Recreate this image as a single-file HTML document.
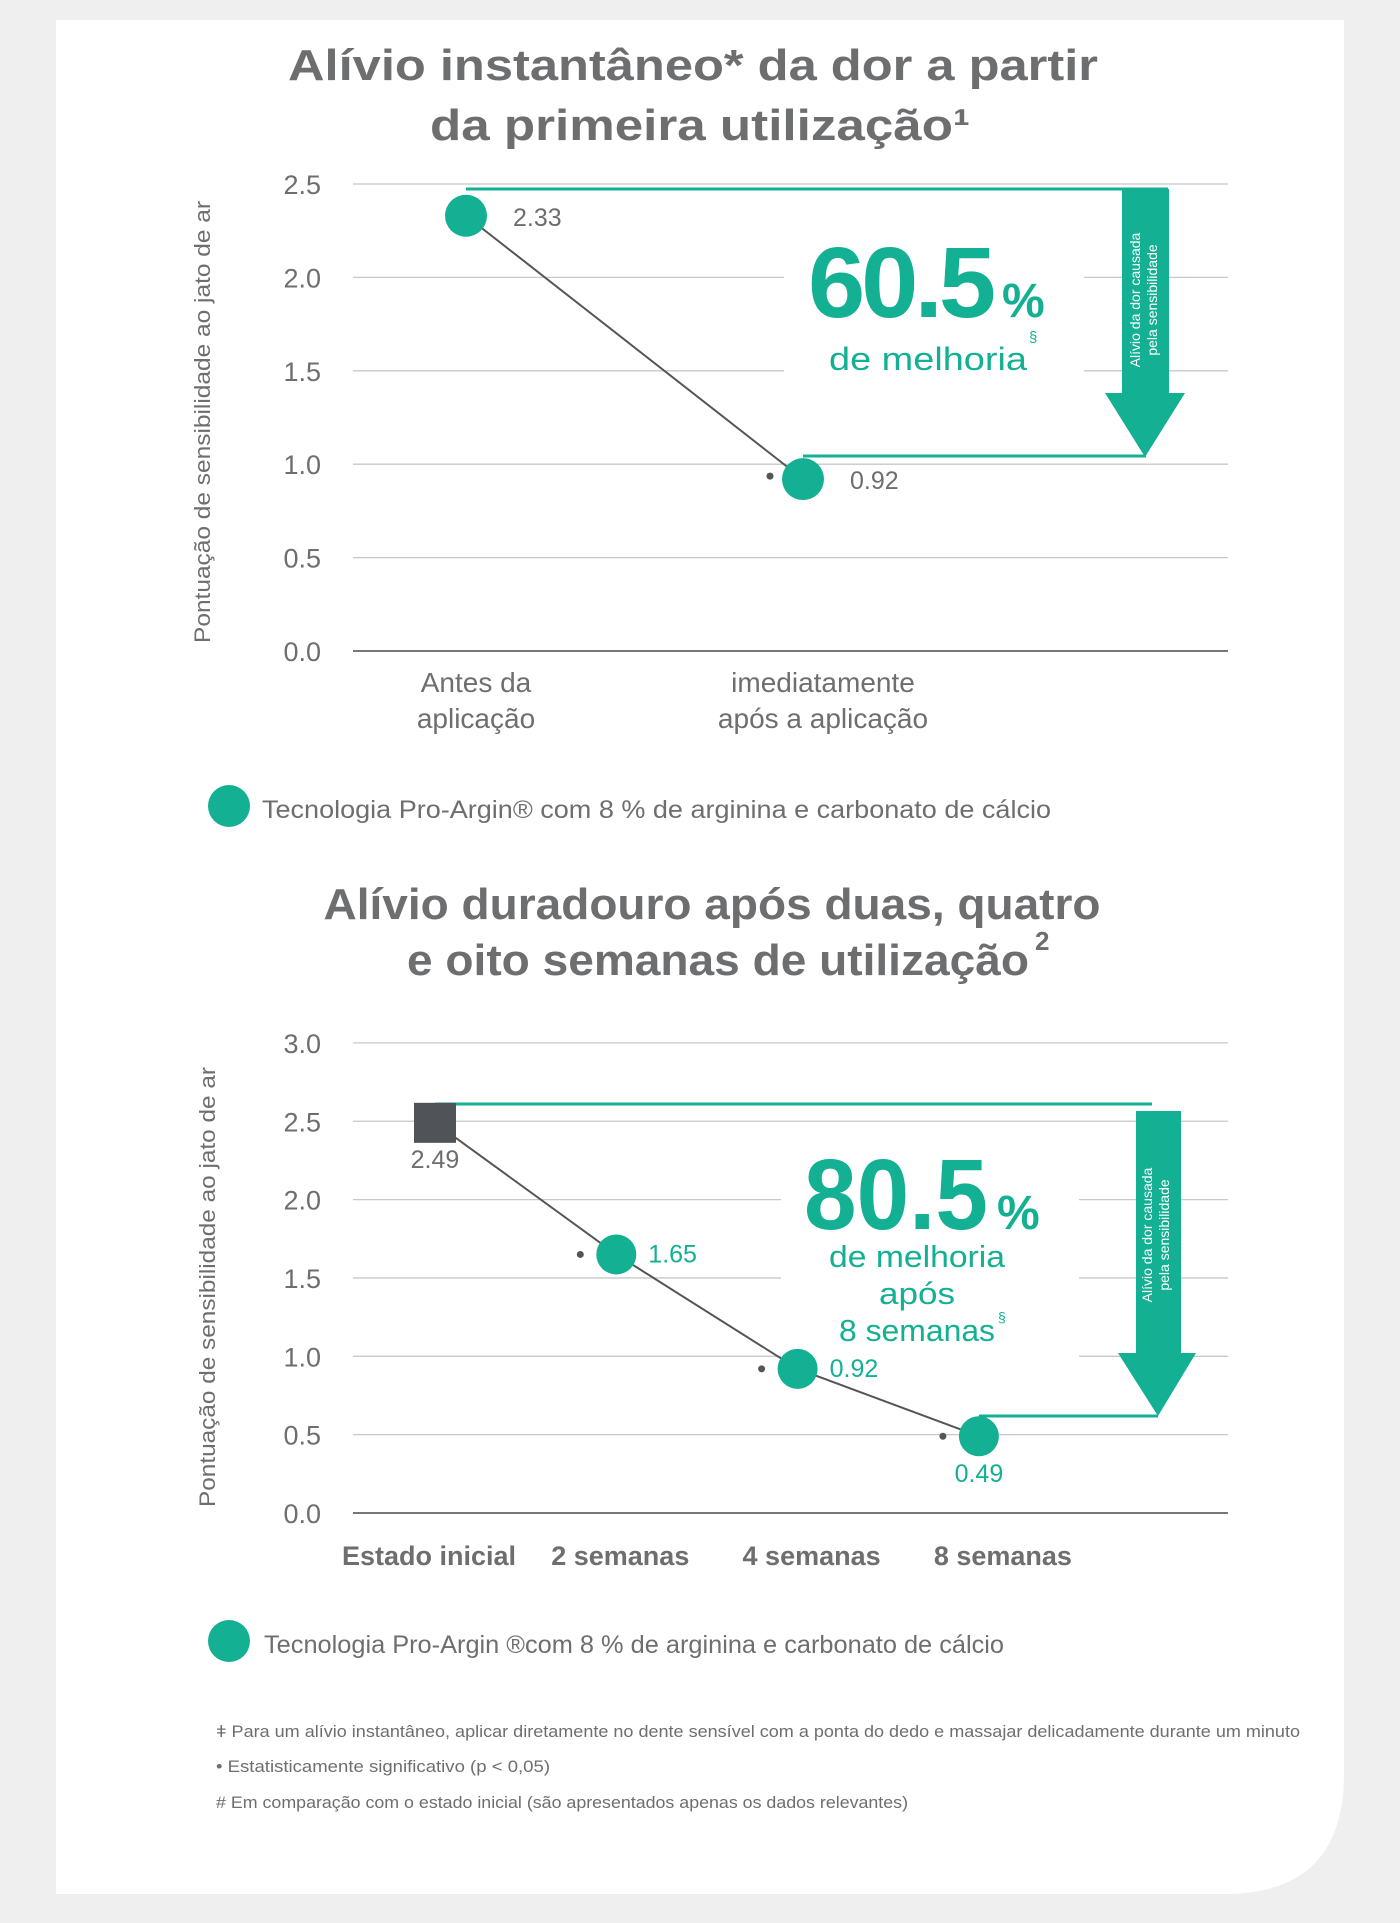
<!DOCTYPE html>
<html><head><meta charset="utf-8"><style>
html,body{margin:0;padding:0;background:#efefef;}
svg{display:block;font-family:"Liberation Sans",sans-serif;}
</style></head><body>
<svg width="1400" height="1923" viewBox="0 0 1400 1923" xmlns="http://www.w3.org/2000/svg">
<path d="M56 20 H1344 V1774 Q1344 1894 1224 1894 H56 Z" fill="#fff"/>
<g fill="#6d6e70" font-weight="bold" font-size="44" text-anchor="middle">
<text x="693" y="80" textLength="810" lengthAdjust="spacingAndGlyphs">Alívio instantâneo* da dor a partir</text>
<text x="700" y="140" textLength="540" lengthAdjust="spacingAndGlyphs">da primeira utilização¹</text>
</g>
<g id="c1"></g>
<g fill="#6d6e70" font-weight="bold" font-size="44" text-anchor="middle">
<text x="712" y="919" textLength="777" lengthAdjust="spacingAndGlyphs">Alívio duradouro após duas, quatro</text>
<text x="718" y="975" textLength="622" lengthAdjust="spacingAndGlyphs">e oito semanas de utilização</text>
<text x="1035" y="950" font-size="26" text-anchor="start">2</text>
</g>
<g id="c2"></g>
<g fill="#6d6e70" font-size="17">
<text x="216" y="1737" textLength="1084" lengthAdjust="spacingAndGlyphs">ǂ Para um alívio instantâneo, aplicar diretamente no dente sensível com a ponta do dedo e massajar delicadamente durante um minuto</text>
<text x="216" y="1772" textLength="334" lengthAdjust="spacingAndGlyphs">• Estatisticamente significativo (p &lt; 0,05)</text>
<text x="216" y="1808" textLength="692" lengthAdjust="spacingAndGlyphs"># Em comparação com o estado inicial (são apresentados apenas os dados relevantes)</text>
</g>
</svg>
<script>
const c1Categories=["Antes da|aplicação","imediatamente|após a aplicação"];
const c1Values=[2.33,0.92];
const c1Ticks=[0,0.5,1,1.5,2,2.5];
const c1Labels=["2.33","0.92"];
const c2Categories=["Estado inicial","2 semanas","4 semanas","8 semanas"];
const c2Values=[2.49,1.65,0.92,0.49];
const c2Ticks=[0,0.5,1,1.5,2,2.5,3];
const c2Labels=["2.49","1.65","0.92","0.49"];
const NS="http://www.w3.org/2000/svg";
const TEAL="#13b093",GRAY="#6d6e70";
function mk(p,t,a){const e=document.createElementNS(NS,t);for(const k in a)e.setAttribute(k,a[k]);p.appendChild(e);return e;}
function txt(p,x,y,s,a){const e=mk(p,'text',Object.assign({x:x,y:y},a));e.textContent=s;return e;}

// Chart 1
(function(){
const g=document.getElementById('c1');
const y=v=>651-v*186.8, x=i=>466+i*337;
const gapY=[1.5,2];
c1Ticks.forEach(t=>{
 const gl=mk(g,'line',{x1:353,x2:1228,y1:y(t),y2:y(t),stroke:t===0?'#777':'#c8c8c8','stroke-width':t===0?2:1.3});
 
 
 const tl=txt(g,321,y(t)+10,t.toFixed(1),{fill:GRAY,'font-size':27,'text-anchor':'end'});
 
 
});
const mask=mk(g,'rect',{x:784,y:y(2.1),width:300,height:y(1.4)-y(2.1),fill:'#fff'});


const yt=txt(g,0,0,'Pontuação de sensibilidade ao jato de ar',{fill:GRAY,'font-size':22,'text-anchor':'middle',transform:'translate(210,422) rotate(-90)',textLength:442,lengthAdjust:'spacingAndGlyphs'});


// teal bracket lines
const l1=mk(g,'line',{x1:x(0),x2:1168,y1:189,y2:189,stroke:TEAL,'stroke-width':3});


const l2=mk(g,'line',{x1:x(1),x2:1146,y1:456,y2:456,stroke:TEAL,'stroke-width':3});


const ar=mk(g,'path',{d:'M1122 189 H1169 V393 H1185 L1145 457 L1105 393 H1122 Z',fill:TEAL});


const at=mk(g,'text',{fill:'#fff','font-size':14,'text-anchor':'middle',transform:'translate(1140,300) rotate(-90)'});


at.innerHTML='<tspan x="0" y="0">Alívio da dor causada</tspan><tspan x="0" y="17">pela sensibilidade</tspan>';
const ln=mk(g,'polyline',{points:c1Values.map((v,i)=>x(i)+','+y(v)).join(' '),fill:'none',stroke:'#555','stroke-width':2});


c1Values.forEach((v,i)=>{
 const c=mk(g,'circle',{cx:x(i),cy:y(v),r:21,fill:TEAL});
 
 
 const l=txt(g,x(i)+47,y(v)+10,c1Labels[i],{fill:GRAY,'font-size':25});
 
 
 if(i>0){const d=mk(g,'circle',{cx:x(i)-33,cy:y(v)-3,r:3.5,fill:'#555'});
 
 }
 const parts=c1Categories[i].split('|');
 const cx=[476,823][i];
 parts.forEach((p,j)=>{const t=txt(g,cx,692+j*36,p,{fill:GRAY,'font-size':28,'text-anchor':'middle'});
 
 });
});
const big=txt(g,900,317,'60.5',{fill:TEAL,'font-size':100,'font-weight':'bold','text-anchor':'middle',textLength:184,lengthAdjust:'spacingAndGlyphs','letter-spacing':-4});


const pc=txt(g,1002,317,'%',{fill:TEAL,'font-size':48,'font-weight':'bold'});


const dm=txt(g,928,370,'de melhoria',{fill:TEAL,'font-size':32,'text-anchor':'middle',textLength:198,lengthAdjust:'spacingAndGlyphs'});


txt(g,1029,342,'§',{fill:TEAL,'font-size':15});
const lc=mk(g,'circle',{cx:229,cy:806,r:21,fill:TEAL});


const lt=txt(g,262,818,'Tecnologia Pro-Argin® com 8 % de arginina e carbonato de cálcio',{fill:GRAY,'font-size':25,textLength:789,lengthAdjust:'spacingAndGlyphs'});


})();

// Chart 2
(function(){
const g=document.getElementById('c2');
const y=v=>1513-v*156.7, x=i=>435+i*181.3, xl=i=>429+i*191.3;
c2Ticks.forEach(t=>{
 const gl=mk(g,'line',{x1:353,x2:1228,y1:y(t),y2:y(t),stroke:t===0?'#777':'#c8c8c8','stroke-width':t===0?2:1.3});
 
 
 const tl=txt(g,321,y(t)+10,t.toFixed(1),{fill:GRAY,'font-size':27,'text-anchor':'end'});
 
 
});
const mask=mk(g,'rect',{x:781,y:y(2.1),width:298,height:y(0.95)-y(2.1),fill:'#fff'});


const yt=txt(g,0,0,'Pontuação de sensibilidade ao jato de ar',{fill:GRAY,'font-size':22,'text-anchor':'middle',transform:'translate(215,1287) rotate(-90)',textLength:440,lengthAdjust:'spacingAndGlyphs'});


const l1=mk(g,'line',{x1:x(0),x2:1152,y1:1104,y2:1104,stroke:TEAL,'stroke-width':3});


const l2=mk(g,'line',{x1:x(3),x2:1158,y1:1416,y2:1416,stroke:TEAL,'stroke-width':3});


const ar=mk(g,'path',{d:'M1136 1111 H1181 V1353 H1196 L1158 1416 L1118 1353 H1136 Z',fill:TEAL});


const at=mk(g,'text',{fill:'#fff','font-size':14,'text-anchor':'middle',transform:'translate(1152,1235) rotate(-90)'});


at.innerHTML='<tspan x="0" y="0">Alívio da dor causada</tspan><tspan x="0" y="17">pela sensibilidade</tspan>';
const ln=mk(g,'polyline',{points:c2Values.map((v,i)=>x(i)+','+y(v)).join(' '),fill:'none',stroke:'#555','stroke-width':2});


c2Values.forEach((v,i)=>{
 if(i===0){
  const s=mk(g,'rect',{x:x(i)-21,y:y(v)-20,width:42,height:40,fill:'#505458'});
  
  
  const l=txt(g,x(i),y(v)+45,c2Labels[i],{fill:GRAY,'font-size':25,'text-anchor':'middle'});
  
  
 } else {
  const c=mk(g,'circle',{cx:x(i),cy:y(v),r:20,fill:TEAL});
  
  
  const d=mk(g,'circle',{cx:x(i)-36,cy:y(v),r:3.5,fill:'#555'});
  
  
  const last=i===c2Values.length-1;
  const l=txt(g,last?x(i):x(i)+32,last?y(v)+46:y(v)+8,c2Labels[i],{fill:TEAL,'font-size':25,'text-anchor':last?'middle':'start'});
  
  
 }
 const t=txt(g,xl(i),1565,c2Categories[i],{fill:GRAY,'font-size':27,'font-weight':'bold','text-anchor':'middle'});
 
 
});
const big=txt(g,896,1229,'80.5',{fill:TEAL,'font-size':100,'font-weight':'bold','text-anchor':'middle',textLength:184,lengthAdjust:'spacingAndGlyphs'});


const pc=txt(g,997,1229,'%',{fill:TEAL,'font-size':48,'font-weight':'bold'});


[['de melhoria',1267,176],['após',1304,76],['8 semanas',1341,156]].forEach(r=>{
 const t=txt(g,917,r[1],r[0],{fill:TEAL,'font-size':31,'text-anchor':'middle',textLength:r[2],lengthAdjust:'spacingAndGlyphs'});
 
 
});
txt(g,998,1322,'§',{fill:TEAL,'font-size':14});
const lc=mk(g,'circle',{cx:229,cy:1641,r:21,fill:TEAL});


const lt=txt(g,264,1653,'Tecnologia Pro-Argin ®com 8 % de arginina e carbonato de cálcio',{fill:GRAY,'font-size':25,textLength:740,lengthAdjust:'spacingAndGlyphs'});


})();
</script>
</body></html>
